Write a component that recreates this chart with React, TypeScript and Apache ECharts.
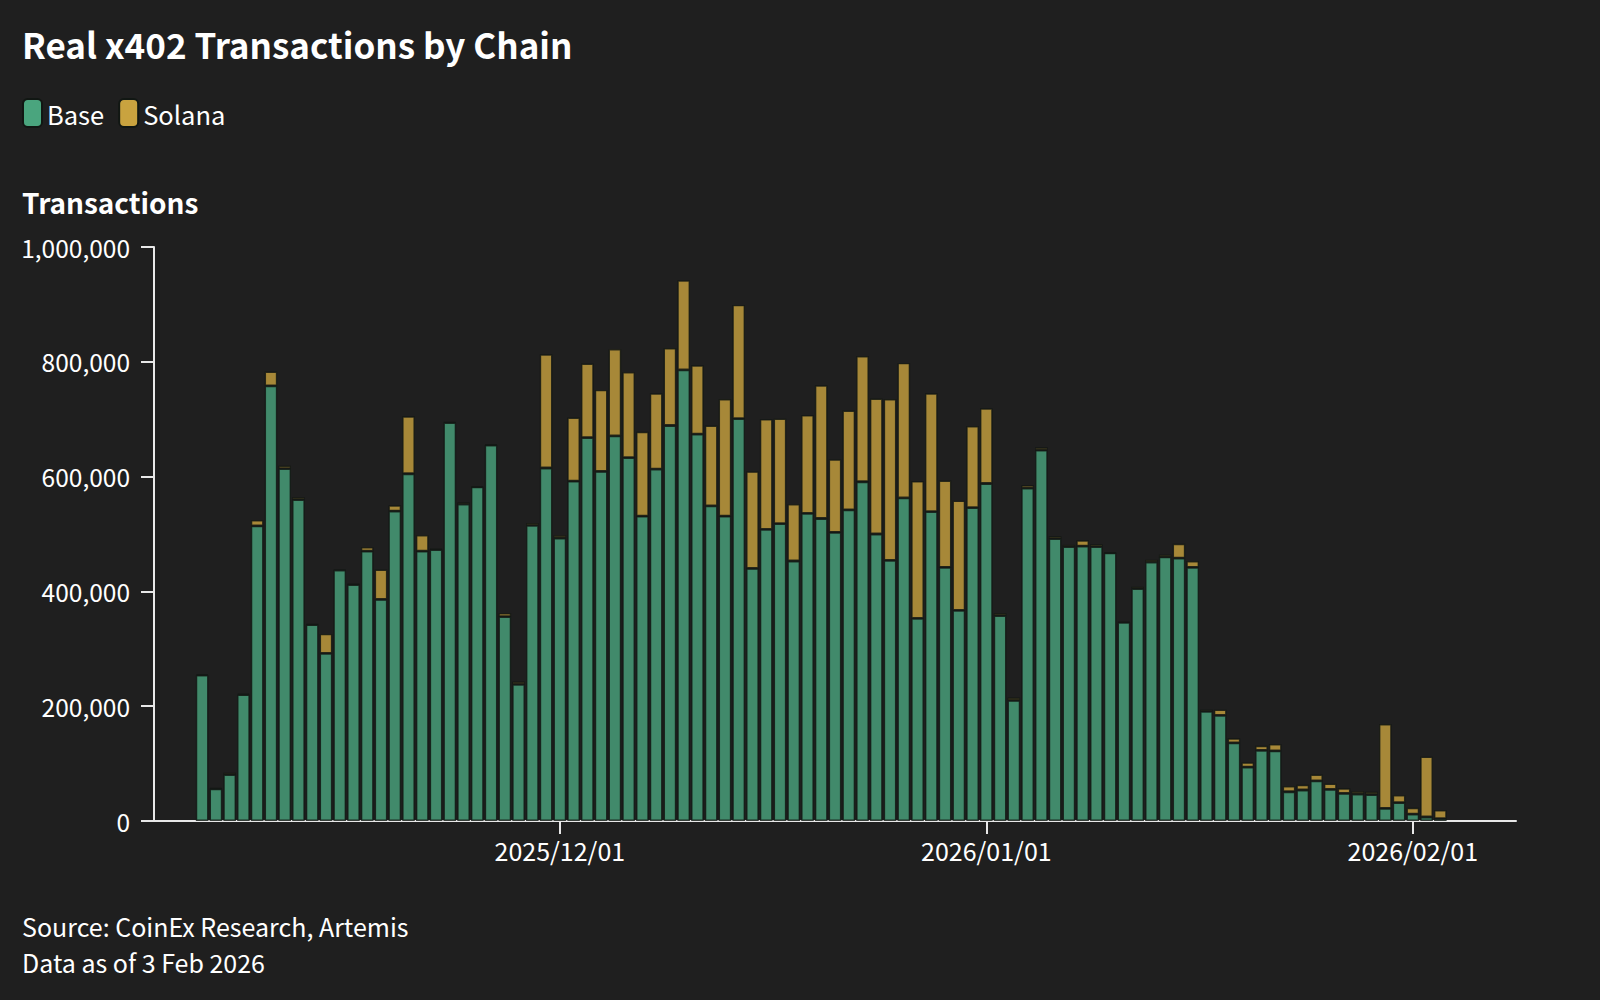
import React, { useEffect, useRef } from "react";
import * as echarts from "echarts";

const FONT = "'Noto Sans CJK SC', 'Noto Sans', sans-serif";
const BG = "#1f1f1f";
const GREEN = "#4aa57e";
const GOLD = "#c9a33f";
const AXIS = "#e8e8e8";
const TEXT = "#ffffff";

// x-axis window: 2 Nov 2025 - 8 Feb 2026 (one category per day)
const AXIS_START = [2025, 10, 2];
const AXIS_DAYS = 99;
// data covers 5 Nov 2025 - 3 Feb 2026
const DATA_START = [2025, 10, 5];
const SERIES_NAMES = ["Base", "Solana"];
const Y_TICKS = [0, 200000, 400000, 600000, 800000, 1000000];

// daily transactions (thousands)
const baseK = [
  254, 56, 81, 220, 514, 758, 614, 560, 342, 292, 437, 412, 470, 386, 540, 605, 470, 473, 694, 552, 582, 655, 356, 238, 515, 615,
  493, 592, 668, 609, 671, 633, 531, 613, 689, 786, 674, 549, 531, 701, 440, 508, 518, 453, 536, 527, 503, 542, 591, 500, 454,
  563, 353, 539, 442, 367, 546,
  588, 358, 210, 580, 646, 492, 478, 479, 478, 467, 346, 405, 451, 460, 458, 442, 191, 184, 136, 94, 123, 122, 51, 54, 70, 55,
  48, 47, 46, 22, 32,
  12, 7, 4,
];
const solanaK = [
  2, 1, 3, 2, 10, 25, 5, 4, 1, 34, 1, 1, 7, 52, 10, 100, 28, 1, 1, 3, 1, 1, 6, 5, 4, 198,
  5, 111, 129, 142, 151, 149, 147, 132, 135, 156, 120, 140, 204, 198, 169, 192, 183, 99, 171, 232, 127, 173, 219, 236, 281,
  235, 239, 206, 151, 191, 142,
  131, 4, 5, 5, 5, 4, 3, 10, 4, 1, 1, 3, 4, 4, 25, 11, 3, 10, 8, 8, 8, 12, 10, 9, 11, 10,
  9, 5, 5, 147, 13,
  11, 105, 15,
];

const pad = (n: number) => (n < 10 ? "0" + n : "" + n);
const fmtDate = (d: Date) => d.getFullYear() + "/" + pad(d.getMonth() + 1) + "/" + pad(d.getDate());
const categories: string[] = [];
for (let i = 0; i < AXIS_DAYS; i++) {
  categories.push(fmtDate(new Date(AXIS_START[0], AXIS_START[1], AXIS_START[2] + i)));
}
const dataOffset = categories.indexOf(fmtDate(new Date(DATA_START[0], DATA_START[1], DATA_START[2])));
const placeOnAxis = (vals: number[]) =>
  categories.map((_, i) => {
    const k = i - dataOffset;
    return k >= 0 && k < vals.length ? vals[k] * 1000 : null;
  });
const isMonthStart = (_i: number, v: string) => v.slice(-2) === "01";

export default function App() {
  const ref = useRef<HTMLDivElement>(null);
  useEffect(() => {
    if (!ref.current) return;
    const chart = echarts.init(ref.current, null, { renderer: "svg" });
    const barStyle = (c: string) => ({
      color: c,
      opacity: 0.8,
      borderColor: "#111713",
      borderWidth: 1.4,
    });
    chart.setOption({
      animation: false,
      backgroundColor: BG,
      textStyle: { fontFamily: FONT },
      title: {
        text: "Real x402 Transactions by Chain",
        left: 22,
        top: 26,
        padding: 0,
        textStyle: { color: TEXT, fontSize: 35, fontWeight: "bold", fontFamily: FONT },
      },
      legend: {
        left: 22,
        top: 98,
        padding: 0,
        icon: "roundRect",
        itemWidth: 19,
        itemHeight: 28,
        itemGap: 14,
        selectedMode: false,
        textStyle: { color: TEXT, fontSize: 25.5, fontFamily: FONT },
        data: SERIES_NAMES.map((n, i) => ({ name: n, itemStyle: { color: i === 0 ? GREEN : GOLD, opacity: 1 } })),
      },
      graphic: [
        {
          type: "text",
          left: 22,
          top: 188,
          style: { text: "Transactions", fill: TEXT, font: `bold 28px ${FONT}` },
        },
        {
          type: "text",
          left: 22,
          top: 913,
          style: { text: "Source: CoinEx Research, Artemis", fill: TEXT, font: `25px ${FONT}` },
        },
        {
          type: "text",
          left: 22,
          top: 949,
          style: { text: "Data as of 3 Feb 2026", fill: TEXT, font: `25px ${FONT}` },
        },
      ],
      grid: { left: 154, right: 84, top: 247, bottom: 179, containLabel: false },
      xAxis: {
        type: "category",
        data: categories,
        boundaryGap: true,
        axisLine: { show: true, lineStyle: { color: AXIS, width: 2 } },
        axisTick: {
          show: true,
          alignWithLabel: true,
          interval: isMonthStart,
          length: 13,
          lineStyle: { color: AXIS, width: 2 },
        },
        axisLabel: {
          show: true,
          interval: isMonthStart,
          color: TEXT,
          fontSize: 25,
          fontFamily: FONT,
          margin: 16,
        },
        splitLine: { show: false },
      },
      yAxis: {
        type: "value",
        min: Y_TICKS[0],
        max: Y_TICKS[Y_TICKS.length - 1],
        interval: Y_TICKS[1] - Y_TICKS[0],
        axisLine: { show: true, lineStyle: { color: AXIS, width: 2 } },
        axisTick: { show: true, length: 13, lineStyle: { color: AXIS, width: 2 } },
        axisLabel: {
          color: TEXT,
          fontSize: 24.5,
          fontFamily: FONT,
          margin: 24,
          formatter: (v: number) => v.toLocaleString("en-US"),
        },
        splitLine: { show: false },
      },
      series: [
        {
          name: SERIES_NAMES[0],
          type: "bar",
          stack: "tx",
          barWidth: 12.6,
          itemStyle: barStyle(GREEN),
          data: placeOnAxis(baseK),
        },
        {
          name: SERIES_NAMES[1],
          type: "bar",
          stack: "tx",
          barWidth: 12.6,
          itemStyle: barStyle(GOLD),
          data: placeOnAxis(solanaK),
        },
      ],
    });
    return () => chart.dispose();
  }, []);
  return (
    <div
      ref={ref}
      style={{ position: "fixed", left: 0, top: 0, width: 1600, height: 1000, background: BG }}
    />
  );
}
